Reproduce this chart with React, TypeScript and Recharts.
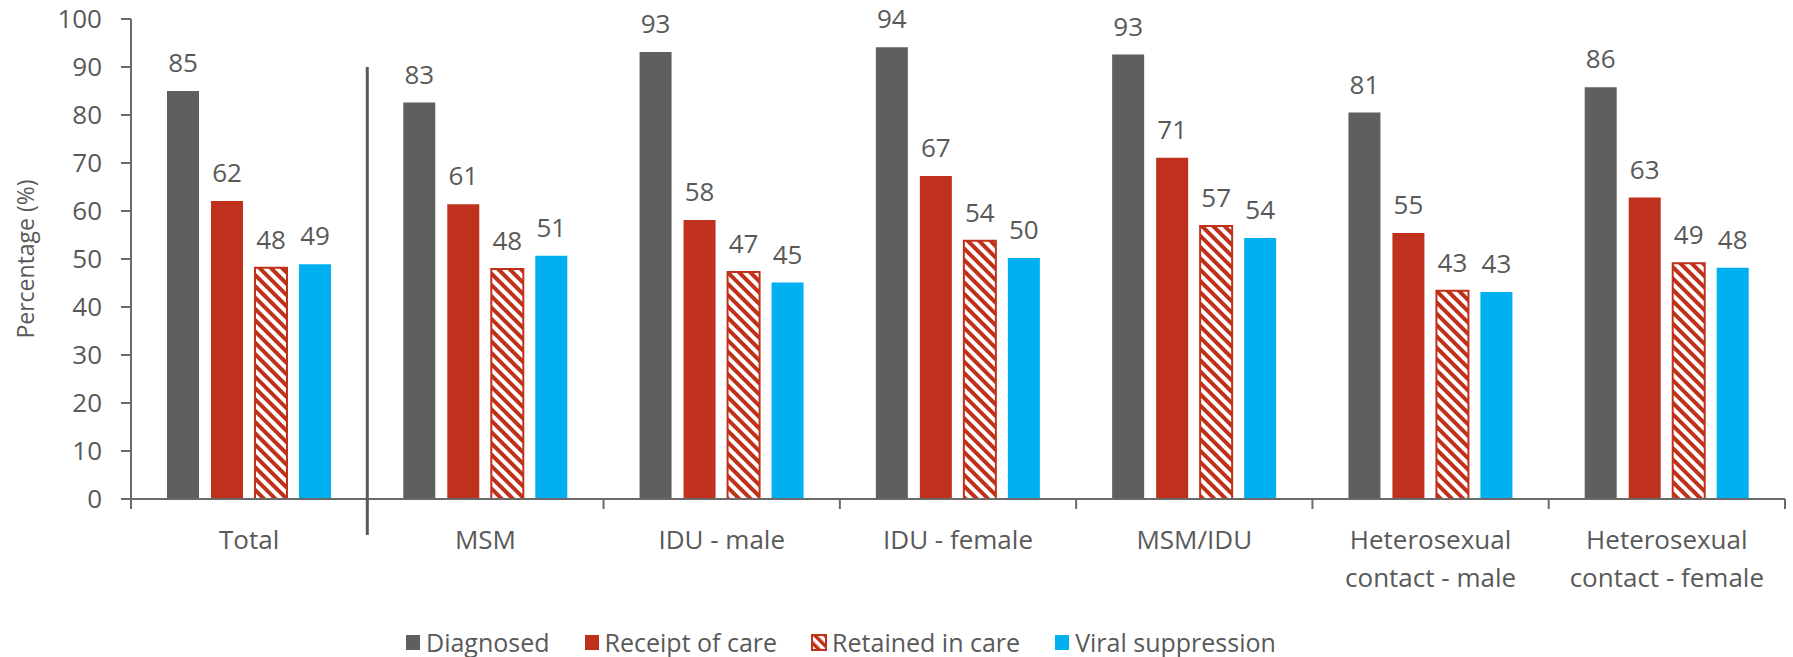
import { BarChart, Bar, XAxis, YAxis, LabelList, Legend, Label } from "recharts";

const categories = [
  "Total",
  "MSM",
  "IDU - male",
  "IDU - female",
  "MSM/IDU",
  "Heterosexual\ncontact - male",
  "Heterosexual\ncontact - female",
];
const diagnosed = [85.0, 82.6, 93.1, 94.1, 92.6, 80.5, 85.8];
const receiptOfCare = [62.1, 61.4, 58.1, 67.3, 71.1, 55.4, 62.8];
const retainedInCare = [48.2, 47.9, 47.3, 53.8, 56.9, 43.4, 49.1];
const viralSuppression = [48.9, 50.7, 45.1, 50.2, 54.4, 43.1, 48.2];
const yTicks = [0, 10, 20, 30, 40, 50, 60, 70, 80, 90, 100];

const TEXT = "#595959";
const AXIS = "#6a6a6a";
const FONT = "'Open Sans', sans-serif";

const series = [
  { key: "diagnosed", name: "Diagnosed", fill: "#5f5f5f" },
  { key: "receipt", name: "Receipt of care", fill: "#bf311c" },
  { key: "retained", name: "Retained in care", fill: "url(#hatch)", stroke: "#c0311a" },
  { key: "viral", name: "Viral suppression", fill: "#00b0f0" },
];

const data = categories.map((name, i) => ({
  name,
  diagnosed: diagnosed[i],
  receipt: receiptOfCare[i],
  retained: retainedInCare[i],
  viral: viralSuppression[i],
}));

function CategoryTick(props: any) {
  const { x, y, payload, index, visibleTicksCount } = props;
  const half = payload?.offset || 118;
  const lines = String(payload.value).split("\n");
  return (
    <g>
      <line x1={x - half} x2={x - half} y1={y} y2={y + 10} stroke={AXIS} strokeWidth={2} />
      {index === visibleTicksCount - 1 && (
        <line x1={x + half} x2={x + half} y1={y} y2={y + 10} stroke={AXIS} strokeWidth={2} />
      )}
      {/* divider between Total and the groups */}
      {index === 1 && (
        <line x1={x - half} x2={x - half} y1={y - 432} y2={y + 36} stroke="#595959" strokeWidth={3} />
      )}
      <text x={x} y={y + 50} textAnchor="middle" fill={TEXT} fontSize={26} fontFamily={FONT}>
        {lines.map((l, i) => (
          <tspan key={i} x={x} dy={i === 0 ? 0 : 38}>
            {l}
          </tspan>
        ))}
      </text>
    </g>
  );
}

function LegendContent() {
  return (
    <div
      style={{
        display: "flex",
        alignItems: "center",
        height: 30,
        paddingLeft: 405,
        gap: 34,
        fontSize: 25,
        color: TEXT,
        fontFamily: FONT,
      }}
    >
      {series.map((s) => (
        <div key={s.key} style={{ display: "flex", alignItems: "center", gap: 5 }}>
          <svg width={16} height={17}>
            <rect
              x={1}
              y={1}
              width={14}
              height={15}
              fill={s.key === "retained" ? "url(#hatchLegend)" : s.fill}
              stroke={s.stroke ?? "none"}
              strokeWidth={s.stroke ? 2 : 0}
            />
          </svg>
          <span>{s.name}</span>
        </div>
      ))}
    </div>
  );
}

export default function App() {
  return (
    <div style={{ width: 1793, height: 657, fontFamily: FONT }}>
      <style>{`body { margin: 0; }`}</style>
      <svg width={0} height={0} style={{ position: "absolute" }}>
        <defs>
          <pattern id="hatchLegend" patternUnits="userSpaceOnUse" width={7} height={7} patternTransform="rotate(-45)">
            <rect width={7} height={7} fill="#ffffff" />
            <rect width={3.5} height={7} fill="#c0311a" />
          </pattern>
        </defs>
      </svg>
      <BarChart
        width={1793}
        height={657}
        data={data}
        margin={{ top: 19, right: 8, left: 0, bottom: 0 }}
        barSize={32}
        barGap={12}
      >
        <defs>
          <pattern id="hatch" patternUnits="userSpaceOnUse" width={8} height={8} patternTransform="rotate(-45)">
            <rect width={8} height={8} fill="#ffffff" />
            <rect width={4} height={8} fill="#c0311a" />
          </pattern>
        </defs>
        <XAxis
          dataKey="name"
          interval={0}
          height={128}
          tickSize={0}
          tickMargin={0}
          tickLine={false}
          axisLine={{ stroke: AXIS, strokeWidth: 2 }}
          tick={<CategoryTick />}
        />
        <YAxis
          width={131}
          domain={[0, 100]}
          ticks={yTicks}
          interval={0}
          tickSize={10}
          tickMargin={19}
          tickLine={{ stroke: AXIS, strokeWidth: 2 }}
          axisLine={{ stroke: AXIS, strokeWidth: 2 }}
          tick={{ fontSize: 26, fill: TEXT, fontFamily: FONT }}
        >
          <Label
            value="Percentage (%)"
            angle={-90}
            position="insideLeft"
            offset={26}
            style={{ textAnchor: "middle", fontSize: 23, fill: TEXT, fontFamily: FONT }}
          />
        </YAxis>
        <Legend verticalAlign="bottom" height={30} content={<LegendContent />} />
        {series.map((s) => (
          <Bar
            key={s.key}
            dataKey={s.key}
            name={s.name}
            fill={s.fill}
            stroke={s.stroke}
            strokeWidth={s.stroke ? 2 : 0}
            isAnimationActive={false}
          >
            <LabelList
              dataKey={s.key}
              position="top"
              offset={19}
              formatter={(v: any) => Math.round(Number(v))}
              style={{ fontSize: 26, fill: TEXT, fontFamily: FONT }}
            />
          </Bar>
        ))}
      </BarChart>
    </div>
  );
}
